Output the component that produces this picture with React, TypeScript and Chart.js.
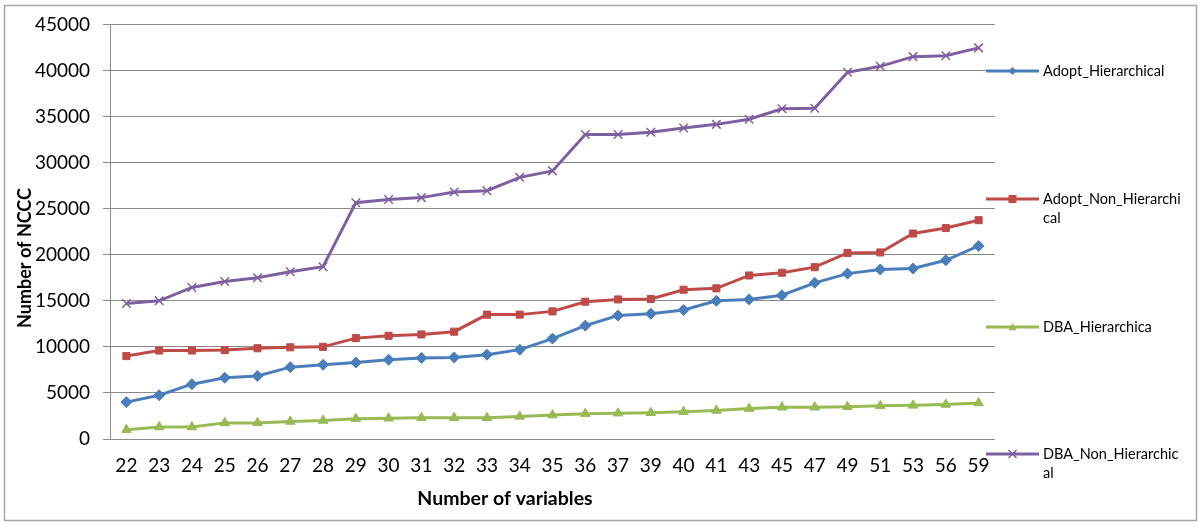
import React, { useEffect, useRef } from "react";
import { Chart, registerables } from "chart.js";

Chart.register(...registerables);

const categories = ["22", "23", "24", "25", "26", "27", "28", "29", "30", "31", "32", "33", "34", "35", "36", "37", "39", "40", "41", "43", "45", "47", "49", "51", "53", "56", "59"];
const adoptHierarchical = [4000, 4750, 5950, 6650, 6850, 7800, 8050, 8300, 8600, 8800, 8850, 9150, 9700, 10900, 12300, 13400, 13600, 14000, 15000, 15150, 15600, 16950, 17950, 18400, 18500, 19400, 20950];
const adoptNonHierarchical = [9000, 9600, 9600, 9650, 9850, 9950, 10000, 10950, 11200, 11350, 11650, 13500, 13500, 13850, 14900, 15150, 15200, 16200, 16350, 17750, 18050, 18650, 20200, 20250, 22300, 22900, 23750];
const dbaHierarchical = [1000, 1300, 1300, 1750, 1750, 1900, 2000, 2200, 2250, 2300, 2300, 2300, 2450, 2600, 2750, 2800, 2850, 2950, 3100, 3300, 3450, 3450, 3500, 3600, 3650, 3750, 3900];
const dbaNonHierarchical = [14700, 15000, 16450, 17100, 17500, 18150, 18700, 25650, 26000, 26200, 26800, 26950, 28400, 29100, 33050, 33050, 33300, 33750, 34150, 34700, 35850, 35900, 39800, 40450, 41500, 41600, 42450];
const yTicks = [0, 5000, 10000, 15000, 20000, 25000, 30000, 35000, 40000, 45000];

const seriesNames = ["Adopt_Hierarchical", "Adopt_Non_Hierarchical", "DBA_Hierarchica", "DBA_Non_Hierarchical"];
const legendLines = [["Adopt_Hierarchical"], ["Adopt_Non_Hierarchi", "cal"], ["DBA_Hierarchica"], ["DBA_Non_Hierarchic", "al"]];
const colors = ["#4A7EBB", "#BE4B48", "#98B954", "#7D60A0"];
const pointStyles = ["rectRot", "rect", "triangle", "crossRot"];

const FONT = "Lato, 'Open Sans', sans-serif";

function drawMarker(ctx: CanvasRenderingContext2D, style: string, x: number, y: number, r: number, color: string) {
  ctx.save();
  ctx.fillStyle = color;
  ctx.strokeStyle = color;
  ctx.beginPath();
  if (style === "rectRot") {
    ctx.moveTo(x, y - r);
    ctx.lineTo(x + r, y);
    ctx.lineTo(x, y + r);
    ctx.lineTo(x - r, y);
    ctx.closePath();
    ctx.fill();
  } else if (style === "rect") {
    ctx.rect(x - r, y - r, 2 * r, 2 * r);
    ctx.fill();
  } else if (style === "triangle") {
    ctx.moveTo(x, y - r);
    ctx.lineTo(x + r, y + r * 0.8);
    ctx.lineTo(x - r, y + r * 0.8);
    ctx.closePath();
    ctx.fill();
  } else {
    ctx.lineWidth = 1.5;
    ctx.moveTo(x - r, y - r);
    ctx.lineTo(x + r, y + r);
    ctx.moveTo(x + r, y - r);
    ctx.lineTo(x - r, y + r);
    ctx.stroke();
  }
  ctx.restore();
}

const decorPlugin = {
  id: "decor",
  beforeDraw(chart: any) {
    const ctx = chart.ctx as CanvasRenderingContext2D;
    ctx.save();
    ctx.fillStyle = "#ffffff";
    ctx.fillRect(0, 0, chart.width, chart.height);
    ctx.strokeStyle = "#a6a6a6";
    ctx.lineWidth = 1.5;
    ctx.strokeRect(4.5, 5.5, 1192, 515);
    ctx.restore();
  },
  afterDraw(chart: any) {
    const ctx = chart.ctx as CanvasRenderingContext2D;
    ctx.save();
    // axis titles
    ctx.fillStyle = "#000000";
    ctx.textAlign = "center";
    ctx.textBaseline = "middle";
    ctx.font = `bold 19.5px ${FONT}`;
    ctx.fillText("Number of variables", 505, 499);
    ctx.font = `bold 18px ${FONT}`;
    ctx.save();
    ctx.translate(25, 258);
    ctx.rotate(-Math.PI / 2);
    ctx.fillText("Number of NCCC", 0, 0);
    ctx.restore();
    // legend
    const legendY = [71, 199, 327, 454];
    ctx.font = `14.5px ${FONT}`;
    ctx.textAlign = "left";
    for (let i = 0; i < seriesNames.length; i++) {
      const y = legendY[i];
      ctx.strokeStyle = colors[i];
      ctx.lineWidth = 3;
      ctx.beginPath();
      ctx.moveTo(986, y);
      ctx.lineTo(1039, y);
      ctx.stroke();
      drawMarker(ctx, pointStyles[i], 1012.5, y, 4, colors[i]);
      ctx.fillStyle = "#000000";
      legendLines[i].forEach((t, k) => {
        ctx.fillText(t, 1043, y + k * 19);
      });
    }
    ctx.restore();
  },
};

export default function App() {
  const canvasRef = useRef<HTMLCanvasElement | null>(null);

  useEffect(() => {
    document.body.style.margin = "0";
    const canvas = canvasRef.current;
    if (!canvas) return;
    const dataArrays = [adoptHierarchical, adoptNonHierarchical, dbaHierarchical, dbaNonHierarchical];
    const radii = [5.5, 5, 5.5, 6];
    const chart = new Chart(canvas, {
      type: "line",
      data: {
        labels: categories,
        datasets: seriesNames.map((name, i) => ({
          label: name,
          data: dataArrays[i],
          borderColor: colors[i],
          backgroundColor: colors[i],
          borderWidth: 3,
          pointStyle: pointStyles[i] as any,
          pointRadius: radii[i],
          pointBorderWidth: i === 3 ? 1.5 : 1,
          pointBackgroundColor: colors[i],
          pointBorderColor: colors[i],
          tension: 0,
        })),
      },
      options: {
        animation: false,
        responsive: false,
        maintainAspectRatio: false,
        layout: { padding: { left: 0, right: 206, top: 20, bottom: 0 } },
        plugins: {
          legend: { display: false },
          tooltip: { enabled: false },
        },
        scales: {
          x: {
            type: "category",
            offset: true,
            grid: { display: false, drawTicks: false },
            border: { display: false },
            ticks: {
              color: "#000000",
              font: { family: FONT, size: 19 },
              padding: 15,
              maxRotation: 0,
              autoSkip: false,
            },
            afterFit: (scale: any) => {
              scale.height = 88;
            },
          },
          y: {
            min: 0,
            max: 45000,
            afterBuildTicks: (scale: any) => {
              scale.ticks = yTicks.map((v) => ({ value: v }));
            },
            grid: {
              color: "#8a8a8a",
              lineWidth: 1,
              drawTicks: true,
              tickLength: 7,
            },
            border: { display: true, color: "#8a8a8a", width: 1 },
            ticks: {
              color: "#000000",
              font: { family: FONT, size: 19 },
              padding: 13,
              callback: (v: any) => String(v),
            },
            afterFit: (scale: any) => {
              scale.width = 110;
            },
          },
        },
      },
      plugins: [decorPlugin],
    });
    return () => chart.destroy();
  }, []);

  return (
    <div style={{ position: "absolute", left: 0, top: 0, width: 1201, height: 527 }}>
      <canvas ref={canvasRef} width={1201} height={527} />
    </div>
  );
}
